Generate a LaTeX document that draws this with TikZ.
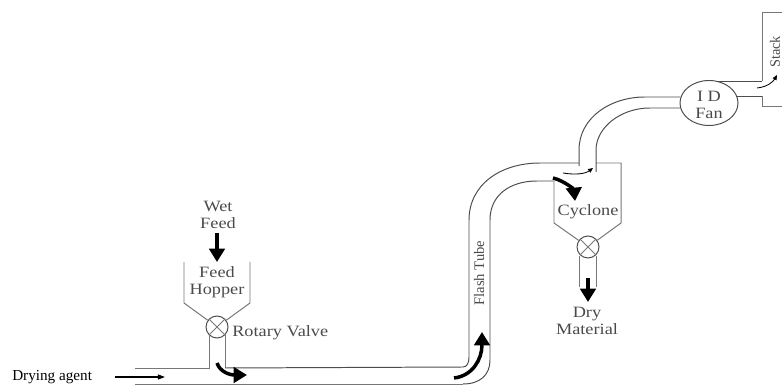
\documentclass[tikz,border=0pt]{standalone}
\usepackage{fontspec}
\usepackage{xcolor}
\usetikzlibrary{arrows.meta, shapes.geometric}
\newfontfamily\dryerfont[FakeStretch=1.16]{Liberation Serif}
\setmainfont{Liberation Serif}
\definecolor{dryerline}{HTML}{777777}
\definecolor{dryerdark}{HTML}{4D4D4D}
\definecolor{dryertext}{HTML}{4A4A4A}
\tikzset{
  pipe/.style={draw=dryerline, line width=0.7pt},
  tube/.style={draw=dryerdark, line width=0.7pt},
  valve/.style={draw=dryerdark, circle, line width=0.7pt, minimum size=22*0.7113pt, inner sep=0pt},
  dryerlabel/.style={text=dryertext, align=center, inner sep=0pt, font=\dryerfont\fontsize{11.2}{11.8}\selectfont},
  bigflow/.style={line width=2.5pt, black, -{Triangle[length=9.5pt, width=11pt]}},
  thinflow/.style={line width=0.6pt, black, -{Triangle[length=3.5pt, width=3pt]}}
}
\begin{document}
\begin{tikzpicture}[x=0.025cm, y=-0.025cm]
  \useasboundingbox (0,0) rectangle (782,385);

  \node[valve] (hv) at (217,327) {};
  \node[valve] (cv) at (588,247) {};
  \node[draw=dryerdark, ellipse, line width=0.7pt, minimum width=58*0.7113pt, minimum height=45*0.7113pt, inner sep=0pt] (fan) at (709,103) {};
  \draw[pipe] (hv.north west) -- (hv.south east) (hv.north east) -- (hv.south west);
  \draw[pipe] (cv.north west) -- (cv.south east) (cv.north east) -- (cv.south west);

  \draw[pipe] (184,262) -- (184,303) -- (hv);
  \draw[pipe] (250,262) -- (250,303) -- (hv);
  \draw[pipe] (209,335) -- (209,368) -- (135,368);
  \draw[pipe] (225,335) -- (225,368);

  \draw[tube] (225,368) -- (463,367) .. controls (467,367) and (469,363) .. (469,357)
    -- (469,220) .. controls (469,185) and (500,163) .. (540,163) -- (579,163);
  \draw[pipe] (135,384) -- (463,384);
  \draw[tube] (463,384) .. controls (480,384) and (490,375) .. (490,360)
    -- (490,220) .. controls (490,195) and (510,181) .. (537,181) -- (554,181);

  \draw[pipe] (596,163) -- (621,163) -- (621,223) -- (cv);
  \draw[pipe] (554,181) -- (554,223) -- (cv);
  \draw[pipe] (579,256) -- (579,287);
  \draw[pipe] (596,256) -- (596,287);

  \draw[tube] (579,166) -- (579,150) .. controls (579,118) and (610,97) .. (645,97) -- (680,97);
  \draw[tube] (596,172) -- (596,150) .. controls (596,128) and (620,108) .. (650,108) -- (680,108);

  \draw[tube] (717,81) -- (762,81);
  \draw[tube] (737,96) -- (762,96);
  \draw[pipe] (762,81) -- (762,12) -- (782,12);
  \draw[pipe] (762,96) -- (762,106) -- (782,106);

  \node[dryerlabel] (wet) at (218,215) {Wet\\Feed};
  \node[dryerlabel] (hopper) at (217,282) {Feed\\Hopper};
  \node[dryerlabel, anchor=west] (rotary) at (232,333) {Rotary Valve};
  \node[dryerlabel, rotate=90, font=\fontsize{10.4}{11}\selectfont] (flash) at (479,273) {Flash Tube};
  \node[dryerlabel] (cyclone) at (588,212) {Cyclone};
  \node[dryerlabel] (dry) at (587,321) {Dry\\Material};
  \node[dryerlabel] (idfan) at (709,105) {I D\\Fan};
  \node[dryerlabel, rotate=90, font=\fontsize{10.2}{11}\selectfont] (stack) at (775,52) {Stack};
  \node[anchor=west, inner sep=0pt, font=\fontsize{10.8}{11}\selectfont] (agent) at (12,377) {Drying agent};

  \coordinate (agentA) at (115,377);
  \coordinate (agentB) at (165,377);
  \draw[line width=0.8pt, black, -{Triangle[length=5pt, width=3.5pt]}] (agentA) -- (agentB);
  \draw[bigflow] (217,233) -- (217,262);
  \draw[bigflow] (217,363) .. controls (220,372) and (230,375) .. (247,375);
  \draw[bigflow] (454,378) .. controls (472,376) and (482,360) .. (482,332);
  \draw[bigflow] (553,178) .. controls (565,181) and (574,190) .. (575,201);
  \draw[bigflow] (588,278) -- (588,302);
  \draw[thinflow] (563,173) .. controls (575,175) and (585,174) .. (593,168);
  \draw[thinflow] (757,88) .. controls (767,87) and (773,82) .. (777,75);
\end{tikzpicture}
\end{document}
